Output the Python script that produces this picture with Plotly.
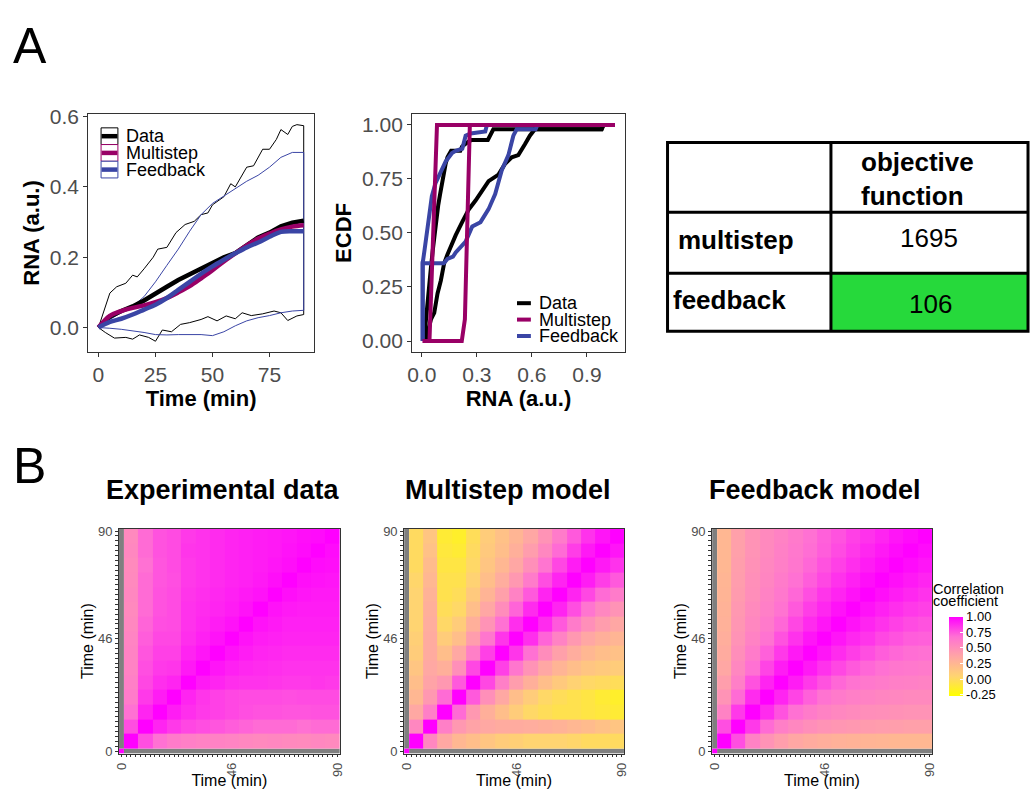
import plotly.graph_objects as go

W, H = 1035, 789
FONT = "Liberation Sans"
TICK_GREY = "#4D4D4D"
LINE_GREY = "#333333"

SERIES = ["Data", "Multistep", "Feedback"]
SERIES_COLORS = {"Data": "#000000", "Multistep": "#990066", "Feedback": "#3A45A5"}

# ---------------- Panel A (left): mean RNA over time ----------------
TIME = [0, 5, 10, 15, 20, 25, 30, 35, 40, 45, 50, 55, 60, 65, 70, 75, 80, 85, 90]
DATA_MEAN = [0.0, 0.031, 0.047, 0.060, 0.077, 0.098, 0.116, 0.135, 0.151, 0.167,
             0.186, 0.200, 0.212, 0.233, 0.256, 0.270, 0.288, 0.298, 0.304]
MULTISTEP_MEAN = [0.0, 0.033, 0.047, 0.056, 0.063, 0.072, 0.084, 0.100, 0.118, 0.140,
                  0.163, 0.188, 0.211, 0.233, 0.253, 0.267, 0.279, 0.287, 0.291]
FEEDBACK_MEAN = [0.0, 0.016, 0.025, 0.037, 0.051, 0.065, 0.084, 0.107, 0.130, 0.153,
                 0.174, 0.193, 0.211, 0.228, 0.242, 0.258, 0.272, 0.274, 0.274]
FEEDBACK_UPPER = [0.0, 0.023, 0.042, 0.060, 0.088, 0.130, 0.177, 0.223, 0.274, 0.321,
                  0.353, 0.374, 0.395, 0.416, 0.433, 0.456, 0.484, 0.498, 0.498]
FEEDBACK_LOWER = [0.0, -0.002, -0.005, -0.009, -0.014, -0.020, -0.021, -0.020, -0.019, -0.020,
                  -0.023, -0.012, 0.005, 0.019, 0.028, 0.034, 0.042, 0.047, 0.049]
DATA_UPPER_T = [0, 2, 5, 8, 12, 15, 17, 20, 24, 26, 30, 34, 38, 42, 45, 48, 50, 55, 58, 60,
                65, 68, 72, 75, 78, 80, 83, 85, 87, 90]
DATA_UPPER = [0.0, 0.042, 0.098, 0.116, 0.126, 0.149, 0.144, 0.167, 0.200, 0.223, 0.228, 0.270,
              0.293, 0.302, 0.321, 0.326, 0.349, 0.372, 0.409, 0.400, 0.456, 0.460, 0.507, 0.507,
              0.535, 0.563, 0.549, 0.572, 0.577, 0.574]
DATA_LOWER_T = [0, 3, 7, 12, 15, 18, 22, 25, 28, 32, 36, 40, 45, 48, 52, 56, 60, 63, 67, 72,
                77, 80, 83, 87, 90]
DATA_LOWER = [0.0, -0.014, -0.030, -0.028, -0.033, -0.021, -0.028, -0.039, -0.007, -0.012, 0.009,
              0.014, 0.023, 0.031, 0.019, 0.033, 0.025, 0.042, 0.034, 0.039, 0.047, 0.042, 0.020,
              0.033, 0.037]

# ---------------- Panel A (middle): ECDF of RNA ----------------
ECDF_DATA_EARLY_X = [0.012, 0.02, 0.03, 0.04, 0.05, 0.06, 0.07, 0.08, 0.09, 0.10, 0.11, 0.12, 0.13,
                     0.14, 0.15, 0.16, 0.21, 0.22, 0.25, 0.27, 0.36, 0.38, 0.39, 0.98, 0.99, 1.052]
ECDF_DATA_EARLY_Y = [0.0, 0.08, 0.17, 0.26, 0.34, 0.42, 0.50, 0.57, 0.63, 0.68, 0.73, 0.78, 0.82,
                     0.85, 0.87, 0.88, 0.88, 0.90, 0.92, 0.93, 0.93, 0.96, 0.98, 0.98, 1.0, 1.0]
ECDF_DATA_LATE_X = [0.02, 0.035, 0.05, 0.068, 0.086, 0.104, 0.122, 0.14, 0.158, 0.185, 0.22, 0.257,
                    0.293, 0.329, 0.364, 0.418, 0.454, 0.49, 0.526, 0.562, 0.589, 0.616, 0.98, 0.99, 1.052]
ECDF_DATA_LATE_Y = [0.0, 0.05, 0.10, 0.13, 0.22, 0.28, 0.36, 0.40, 0.44, 0.49, 0.55, 0.61,
                    0.65, 0.70, 0.74, 0.77, 0.82, 0.85, 0.86, 0.91, 0.95, 0.98, 0.98, 1.0, 1.0]
ECDF_FEED_EARLY_X = [0.005, 0.005, 0.015, 0.025, 0.04, 0.055, 0.075, 0.10, 0.13, 0.165, 0.185, 0.221,
                     0.239, 0.266, 0.346, 0.355, 1.052]
ECDF_FEED_EARLY_Y = [0.0, 0.36, 0.42, 0.48, 0.58, 0.67, 0.73, 0.78, 0.83, 0.87, 0.88, 0.89,
                     0.95, 0.96, 0.97, 1.0, 1.0]
ECDF_FEED_LATE_X = [0.005, 0.005, 0.12, 0.14, 0.17, 0.185, 0.239, 0.275, 0.32, 0.364, 0.40, 0.436,
                    0.472, 0.499, 0.517, 0.62, 0.63, 1.052]
ECDF_FEED_LATE_Y = [0.0, 0.36, 0.36, 0.38, 0.39, 0.41, 0.46, 0.53, 0.55, 0.61, 0.68, 0.79,
                    0.86, 0.95, 0.98, 0.98, 1.0, 1.0]
ECDF_MULTI_EARLY_X = [0.005, 0.042, 0.083, 1.052]
ECDF_MULTI_EARLY_Y = [0.0, 0.0, 1.0, 1.0]
ECDF_MULTI_LATE_X = [0.005, 0.218, 0.235, 0.25, 0.262, 1.052]
ECDF_MULTI_LATE_Y = [0.0, 0.0, 0.1, 0.6, 1.0, 1.0]

# ---------------- Panel A (right): objective function table ----------------
TABLE_HEADER = ["", "objective<br>function"]
TABLE_MODELS = ["multistep", "feedback"]
TABLE_VALUES = [1695, 106]

# ---------------- Panel B: correlation matrices ----------------
# time bins (min): first bin is t = 0, remaining bins are 6-min blocks
HM_EDGES = [-1, 1, 7, 13, 19, 25, 31, 37, 43, 49, 55, 61, 67, 73, 79, 85, 91]
HM_TICKS = list(range(0, 91, 2))
HM_TICKLABELS = ["0", "46", "90"]
# upper triangles (row i starts at the diagonal), blocks centred at 4, 10, ..., 88 min
EXP_UPPER = [
    [1.00, 0.78, 0.68, 0.62, 0.60, 0.58, 0.58, 0.57, 0.55, 0.54, 0.55, 0.54, 0.53, 0.55, 0.54],
    [1.00, 0.90, 0.84, 0.80, 0.78, 0.76, 0.74, 0.72, 0.70, 0.70, 0.70, 0.68, 0.70, 0.70],
    [1.00, 0.92, 0.87, 0.84, 0.82, 0.80, 0.78, 0.77, 0.77, 0.76, 0.76, 0.77, 0.77],
    [1.00, 0.90, 0.85, 0.82, 0.80, 0.79, 0.79, 0.79, 0.78, 0.79, 0.79, 0.79],
    [1.00, 0.93, 0.90, 0.87, 0.86, 0.86, 0.85, 0.84, 0.84, 0.85, 0.84],
    [1.00, 0.94, 0.91, 0.89, 0.88, 0.87, 0.86, 0.86, 0.86, 0.86],
    [1.00, 0.95, 0.92, 0.90, 0.89, 0.88, 0.88, 0.88, 0.88],
    [1.00, 0.95, 0.92, 0.91, 0.90, 0.90, 0.90, 0.90],
    [1.00, 0.95, 0.93, 0.91, 0.91, 0.91, 0.91],
    [1.00, 0.95, 0.93, 0.92, 0.92, 0.92],
    [1.00, 0.96, 0.94, 0.93, 0.93],
    [1.00, 0.96, 0.95, 0.94],
    [1.00, 0.97, 0.96],
    [1.00, 0.97],
    [1.00],
]
MULTI_UPPER = [
    [1.00, 0.55, 0.35, 0.25, 0.20, 0.15, 0.10, 0.08, 0.05, 0.05, 0.05, 0.03, 0.00, 0.00, 0.00],
    [1.00, 0.60, 0.45, 0.38, 0.35, 0.33, 0.33, 0.32, 0.30, 0.28, 0.25, 0.22, 0.18, 0.15],
    [1.00, 0.70, 0.45, 0.30, 0.20, 0.10, 0.02, -0.02, -0.05, -0.05, -0.08, -0.10, -0.12],
    [1.00, 0.75, 0.50, 0.35, 0.20, 0.10, 0.02, -0.02, -0.05, -0.08, -0.12, -0.15],
    [1.00, 0.80, 0.60, 0.42, 0.30, 0.20, 0.12, 0.06, 0.02, 0.00, -0.02],
    [1.00, 0.82, 0.65, 0.48, 0.36, 0.27, 0.20, 0.15, 0.12, 0.10],
    [1.00, 0.85, 0.68, 0.52, 0.40, 0.32, 0.25, 0.20, 0.18],
    [1.00, 0.87, 0.72, 0.58, 0.45, 0.36, 0.30, 0.26],
    [1.00, 0.88, 0.75, 0.62, 0.50, 0.42, 0.36],
    [1.00, 0.90, 0.78, 0.66, 0.55, 0.48],
    [1.00, 0.90, 0.80, 0.70, 0.62],
    [1.00, 0.92, 0.83, 0.75],
    [1.00, 0.93, 0.86],
    [1.00, 0.94],
    [1.00],
]
FEED_UPPER = [
    [1.00, 0.78, 0.58, 0.48, 0.41, 0.36, 0.33, 0.31, 0.29, 0.28, 0.27, 0.26, 0.25, 0.25, 0.25],
    [1.00, 0.84, 0.70, 0.60, 0.55, 0.51, 0.48, 0.46, 0.45, 0.43, 0.42, 0.41, 0.40, 0.40],
    [1.00, 0.88, 0.77, 0.68, 0.62, 0.58, 0.55, 0.53, 0.51, 0.50, 0.49, 0.48, 0.48],
    [1.00, 0.90, 0.81, 0.73, 0.67, 0.63, 0.60, 0.58, 0.56, 0.55, 0.54, 0.54],
    [1.00, 0.92, 0.84, 0.77, 0.71, 0.67, 0.64, 0.62, 0.60, 0.59, 0.58],
    [1.00, 0.93, 0.86, 0.80, 0.75, 0.71, 0.68, 0.65, 0.64, 0.63],
    [1.00, 0.94, 0.88, 0.83, 0.78, 0.74, 0.71, 0.69, 0.68],
    [1.00, 0.94, 0.89, 0.85, 0.80, 0.77, 0.74, 0.73],
    [1.00, 0.95, 0.90, 0.86, 0.82, 0.79, 0.77],
    [1.00, 0.95, 0.91, 0.87, 0.84, 0.82],
    [1.00, 0.96, 0.92, 0.89, 0.86],
    [1.00, 0.96, 0.93, 0.90],
    [1.00, 0.97, 0.94],
    [1.00, 0.97],
    [1.00],
]
HM_TITLES = ["Experimental data", "Multistep model", "Feedback model"]
CB_TITLE_LINES = ["Correlation", "coefficient"]
CB_TICKS = [-0.25, 0.0, 0.25, 0.5, 0.75, 1.0]
CB_LABELS = ["-0.25", "0.00", "0.25", "0.50", "0.75", "1.00"]
CORR_SCALE = [[0.0, "#FFFF00"], [0.25, "#FFD471"], [0.5, "#FFA6A5"],
              [0.75, "#FF71D3"], [1.0, "#FF00FF"]]


def px(x):
    return x / W


def py(y):
    return 1 - y / H


def full_matrix(upper):
    n = len(upper)
    m = [[None] * (n + 1) for _ in range(n + 1)]
    m[0][0] = 1.0  # t = 0 with itself; other t = 0 correlations are undefined (NA)
    for i, row in enumerate(upper):
        for k, v in enumerate(row):
            j = i + k
            m[i + 1][j + 1] = v
            m[j + 1][i + 1] = v
    return m


fig = go.Figure()
C_DATA, C_MULTI, C_FEED = (SERIES_COLORS[s] for s in SERIES)

# ---- A1 traces ----
fig.add_trace(go.Scatter(x=DATA_UPPER_T + DATA_LOWER_T[::-1], y=DATA_UPPER + DATA_LOWER[::-1],
                         mode="lines", line=dict(color=C_DATA, width=1), showlegend=False,
                         hoverinfo="skip", xaxis="x", yaxis="y"))
fig.add_trace(go.Scatter(x=TIME + TIME[::-1], y=FEEDBACK_UPPER + FEEDBACK_LOWER[::-1],
                         mode="lines", line=dict(color=C_FEED, width=1),
                         showlegend=False, hoverinfo="skip", xaxis="x", yaxis="y"))
for name, yv, shape in [("Data", DATA_MEAN, "linear"), ("Multistep", MULTISTEP_MEAN, "spline"),
                        ("Feedback", FEEDBACK_MEAN, "spline")]:
    fig.add_trace(go.Scatter(x=TIME, y=yv, mode="lines", name=name, showlegend=False,
                             line=dict(color=SERIES_COLORS[name], width=4.5, shape=shape),
                             xaxis="x", yaxis="y"))

# ---- A2 traces (ECDF) ----
ecdf_sets = [
    ("Data", ECDF_DATA_EARLY_X, ECDF_DATA_EARLY_Y, ECDF_DATA_LATE_X, ECDF_DATA_LATE_Y),
    ("Feedback", ECDF_FEED_EARLY_X, ECDF_FEED_EARLY_Y, ECDF_FEED_LATE_X, ECDF_FEED_LATE_Y),
    ("Multistep", ECDF_MULTI_EARLY_X, ECDF_MULTI_EARLY_Y, ECDF_MULTI_LATE_X, ECDF_MULTI_LATE_Y),
]
for name, xe, ye, xl, yl in ecdf_sets:
    for xs, ys in [(xe, ye), (xl, yl)]:
        fig.add_trace(go.Scatter(x=xs, y=ys, mode="lines", name=name, showlegend=False,
                                 line=dict(color=SERIES_COLORS[name], width=4),
                                 xaxis="x2", yaxis="y2"))

# ---- B heatmaps ----
for k, upper in enumerate([EXP_UPPER, MULTI_UPPER, FEED_UPPER]):
    m = full_matrix(upper)
    na_mask = [[1 if v is None else None for v in row] for row in m]
    xa, ya = "x%d" % (k + 3), "y%d" % (k + 3)
    fig.add_trace(go.Heatmap(x=HM_EDGES, y=HM_EDGES, z=na_mask,
                             colorscale=[[0, "#7F7F7F"], [1, "#7F7F7F"]], showscale=False,
                             hoverinfo="skip", xaxis=xa, yaxis=ya))
    hm = dict(x=HM_EDGES, y=HM_EDGES, z=m, colorscale=CORR_SCALE, zmin=-0.27, zmax=1.0,
              showscale=(k == 2), hoverongaps=False, xaxis=xa, yaxis=ya)
    if k == 2:
        hm["colorbar"] = dict(
            x=px(953), xanchor="left", y=py(659), yanchor="middle",
            len=79, lenmode="pixels", thickness=14, thicknessmode="pixels",
            xpad=0, ypad=0, outlinewidth=0,
            tickvals=CB_TICKS, ticktext=CB_LABELS, ticks="inside", ticklen=3,
            tickcolor="white", tickfont=dict(family=FONT, size=13, color="black"),
        )
    fig.add_trace(go.Heatmap(**hm))

axis_common = dict(showgrid=False, zeroline=False, showline=True, mirror=True,
                   linecolor=LINE_GREY, linewidth=1, ticks="outside", ticklen=4,
                   tickwidth=1, tickcolor=LINE_GREY)
tick_font_a = dict(family=FONT, size=21, color=TICK_GREY)
title_font_a = dict(family=FONT, size=22, color="black")

layout = dict(
    width=W, height=H, margin=dict(l=0, r=0, t=0, b=0),
    paper_bgcolor="white", plot_bgcolor="white", showlegend=False,
    font=dict(family=FONT, color="black"),
    xaxis=dict(domain=[px(84), px(312)], range=[-4.5, 94.5], tickvals=[0, 25, 50, 75],
               tickfont=tick_font_a, anchor="y",
               title=dict(text="<b>Time (min)</b>", font=title_font_a, standoff=2), **axis_common),
    yaxis=dict(domain=[py(349), py(107)], range=[-0.069, 0.607], tickvals=[0, 0.2, 0.4, 0.6],
               ticktext=["0.0", "0.2", "0.4", "0.6"], tickfont=tick_font_a, anchor="x",
               title=dict(text="<b>RNA (a.u.)</b>", font=title_font_a, standoff=4), **axis_common),
    xaxis2=dict(domain=[px(411), px(626)], range=[-0.053, 1.107], tickvals=[0, 0.3, 0.6, 0.9],
                ticktext=["0.0", "0.3", "0.6", "0.9"], tickfont=tick_font_a, anchor="y2",
                title=dict(text="<b>RNA (a.u.)</b>", font=title_font_a, standoff=2), **axis_common),
    yaxis2=dict(domain=[py(349), py(107)], range=[-0.05, 1.05], tickvals=[0, 0.25, 0.5, 0.75, 1.0],
                ticktext=["0.00", "0.25", "0.50", "0.75", "1.00"], tickfont=tick_font_a, anchor="x2",
                title=dict(text="<b>ECDF</b>", font=title_font_a, standoff=4), **axis_common),
)

hm_x_domains = [[px(115), px(338)], [px(403), px(625)], [px(714), px(936)]]
hm_labels = [str(t) if str(t) in HM_TICKLABELS else "" for t in HM_TICKS]
hm_axis = dict(showgrid=False, zeroline=False, showline=True, mirror=True,
               linecolor=LINE_GREY, linewidth=0.8, ticks="outside", ticklen=3,
               tickwidth=1, tickcolor=LINE_GREY, range=[-1, 91],
               tickvals=HM_TICKS, ticktext=hm_labels,
               tickfont=dict(family=FONT, size=13, color=TICK_GREY))
for k in range(3):
    n = k + 3
    layout["xaxis%d" % n] = dict(domain=hm_x_domains[k], anchor="y%d" % n, tickangle=-90,
                                 title=dict(text="Time (min)", standoff=0,
                                            font=dict(family=FONT, size=16, color="black")),
                                 **hm_axis)
    layout["yaxis%d" % n] = dict(domain=[py(758), py(529)], anchor="x%d" % n,
                                 title=dict(text="Time (min)", standoff=0,
                                            font=dict(family=FONT, size=16, color="black")),
                                 **hm_axis)

fig.update_layout(**layout)

ann = []
shapes = []

# ---- legends (drawn as keys + labels) ----
# A1: boxed keys, top-left inside the panel
for i, name in enumerate(SERIES):
    col = SERIES_COLORS[name]
    top, bot = 121 + 17 * i, 138 + 17 * i
    cy = (top + bot) / 2
    shapes.append(dict(type="rect", xref="paper", yref="paper", x0=px(97), x1=px(114),
                       y0=py(bot), y1=py(top), line=dict(color=col, width=1),
                       fillcolor="white"))
    shapes.append(dict(type="line", xref="paper", yref="paper", x0=px(97.5), x1=px(113.5),
                       y0=py(cy), y1=py(cy), line=dict(color=col, width=4.5)))
    ann.append(dict(text=name, x=px(120), y=py(cy), xanchor="left", yanchor="middle",
                    font=dict(family=FONT, size=18, color="black")))
# A2: bottom-right inside the panel
for i, name in enumerate(SERIES):
    col = SERIES_COLORS[name]
    cy = 299.5 + 16.7 * i
    shapes.append(dict(type="line", xref="paper", yref="paper", x0=px(517), x1=px(531),
                       y0=py(cy), y1=py(cy), line=dict(color=col, width=4)))
    ann.append(dict(text=name, x=px(537), y=py(cy), xanchor="left", yanchor="middle",
                    font=dict(family=FONT, size=18, color="black")))

# colour bar title (two tightly spaced lines)
for i, line in enumerate(CB_TITLE_LINES):
    ann.append(dict(text=line, x=px(935), y=py(590 + 13 * i), xanchor="left", yanchor="middle",
                    font=dict(family=FONT, size=14.5, color="black")))

# ---- panel letters and heatmap titles ----
ann.append(dict(text="A", x=px(6), y=py(38), xanchor="left", yanchor="middle",
                font=dict(family=FONT, size=50, color="black")))
ann.append(dict(text="B", x=px(6), y=py(465), xanchor="left", yanchor="middle",
                font=dict(family=FONT, size=50, color="black")))
title_centers = [220, 507.5, 818]
for k, t in enumerate(HM_TITLES):
    ann.append(dict(text="<b>%s</b>" % t, x=px(title_centers[k]), y=py(490), xanchor="center",
                    yanchor="middle", font=dict(family=FONT, size=27, color="black")))

# ---- table ----
TL, TC, TR = 669, 834, 1033
ROWS = [136, 207, 269, 328]
shapes += [
    dict(type="rect", xref="paper", yref="paper", x0=px(TC), x1=px(TR), y0=py(ROWS[3]), y1=py(ROWS[2]),
         fillcolor="#26D93B", line=dict(width=0), layer="below"),
    dict(type="rect", xref="paper", yref="paper", x0=px(TL), x1=px(TR), y0=py(ROWS[3]), y1=py(ROWS[0]),
         line=dict(color="black", width=3)),
    dict(type="line", xref="paper", yref="paper", x0=px(TC), x1=px(TC), y0=py(ROWS[3]), y1=py(ROWS[0]),
         line=dict(color="black", width=3)),
    dict(type="line", xref="paper", yref="paper", x0=px(TL), x1=px(TR), y0=py(ROWS[1]), y1=py(ROWS[1]),
         line=dict(color="black", width=3)),
    dict(type="line", xref="paper", yref="paper", x0=px(TL), x1=px(TR), y0=py(ROWS[2]), y1=py(ROWS[2]),
         line=dict(color="black", width=3)),
]
tfont_b = dict(family=FONT, size=26, color="black")
ann.append(dict(text="<b>%s</b>" % TABLE_HEADER[1], x=px(862), y=py(173), xanchor="left",
                yanchor="middle", align="left", font=tfont_b))
row_centers = [235, 296]
row_lefts = [678, 672]
value_pos = [(233, 933), (300, 935)]
for i, (mname, val) in enumerate(zip(TABLE_MODELS, TABLE_VALUES)):
    ann.append(dict(text="<b>%s</b>" % mname, x=px(row_lefts[i]), y=py(row_centers[i]),
                    xanchor="left", yanchor="middle", font=tfont_b))
    ann.append(dict(text=str(val), x=px(value_pos[i][1]), y=py(value_pos[i][0]),
                    xanchor="center", yanchor="middle",
                    font=dict(family=FONT, size=26, color="black")))

for a in ann:
    a.update(xref="paper", yref="paper", showarrow=False)
fig.update_layout(annotations=ann, shapes=shapes)

fig.write_html("out.html", config={"displayModeBar": False},
               post_script="document.body.style.margin='0px';document.body.style.overflow='hidden';")
